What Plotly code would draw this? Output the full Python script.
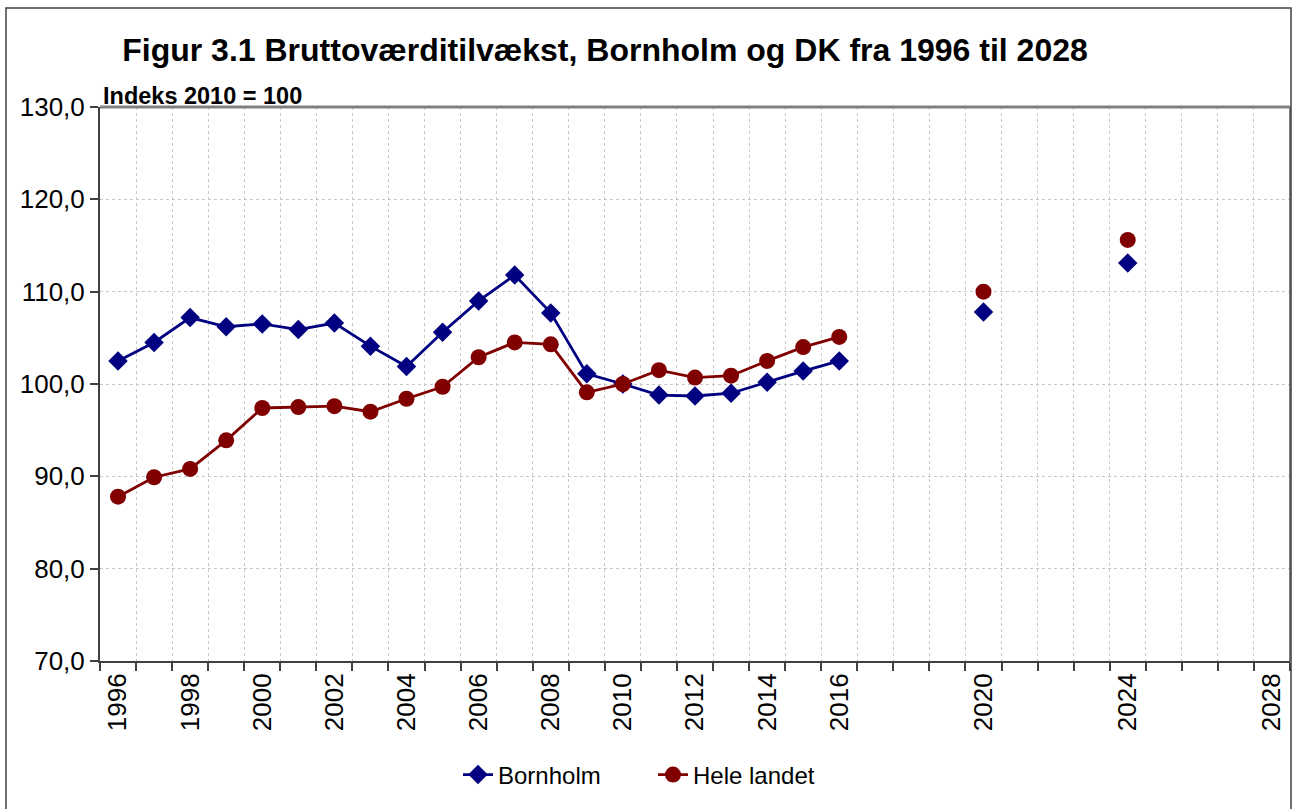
import plotly.graph_objects as go

years = list(range(1996, 2025))
bornholm = [102.5, 104.5, 107.2, 106.2, 106.5, 105.9, 106.6, 104.1, 101.9, 105.6,
            109.0, 111.8, 107.7, 101.1, 100.0, 98.8, 98.7, 99.0, 100.2, 101.4, 102.5,
            None, None, None, 107.8, None, None, None, 113.1]
hele_landet = [87.8, 89.9, 90.8, 93.9, 97.4, 97.5, 97.6, 97.0, 98.4, 99.7,
               102.9, 104.5, 104.3, 99.1, 100.0, 101.5, 100.7, 100.9, 102.5, 104.0, 105.1,
               None, None, None, 110.0, None, None, None, 115.6]
tick_years = [1996, 1998, 2000, 2002, 2004, 2006, 2008, 2010, 2012, 2014, 2016, 2020, 2024, 2028]
y_ticks = [70, 80, 90, 100, 110, 120, 130]

FONT = "Liberation Sans, Arial, sans-serif"

fig = go.Figure()
fig.add_trace(go.Scatter(
    x=years, y=bornholm, name="Bornholm", mode="lines+markers",
    line=dict(color="#000080", width=2.8),
    marker=dict(symbol="diamond", size=15, color="#000080"),
    connectgaps=False,
))
fig.add_trace(go.Scatter(
    x=years, y=hele_landet, name="Hele landet", mode="lines+markers",
    line=dict(color="#800000", width=2.8),
    marker=dict(symbol="circle", size=16, color="#800000"),
    connectgaps=False,
))

fig.update_layout(
    width=1293, height=809,
    margin=dict(l=100, r=3, t=107, b=148),
    paper_bgcolor="white", plot_bgcolor="white",
    separators=",.",
    font=dict(family=FONT, color="black", size=22),
    title=dict(
        text="<b>Figur 3.1 Bruttoværditilvækst, Bornholm og DK fra 1996 til 2028</b>",
        font=dict(family=FONT, size=32, color="black"),
        x=(605 - 100) / 1190, xref="paper", xanchor="center",
        y=1 - 50 / 809, yref="container", yanchor="middle",
    ),
    showlegend=True,
    legend=dict(
        orientation="h", x=(653 - 100) / 1190, xanchor="center",
        y=(661 - 775) / 554, yanchor="middle",
        font=dict(family=FONT, size=24, color="black"),
        bgcolor="rgba(0,0,0,0)",
        entrywidth=150, entrywidthmode="pixels",
    ),
    xaxis=dict(
        range=[1995.5, 2028.5], tickmode="array", tickvals=tick_years,
        ticktext=[str(t) for t in tick_years], tickangle=-90,
        ticks="", showgrid=False, zeroline=False,
        showline=True, linecolor="#404040", linewidth=2,
        tickfont=dict(family=FONT, size=26, color="black"),
        minor=dict(tick0=1995.5, dtick=1, ticks="outside", ticklen=8, tickwidth=1.5,
                   tickcolor="#404040", showgrid=True, gridcolor="#c8c8c8",
                   griddash="dot", gridwidth=1),
    ),
    yaxis=dict(
        range=[70, 130], tickmode="array", tickvals=y_ticks, tickformat=".1f",
        ticks="outside", ticklen=8, tickwidth=1.5, tickcolor="#404040",
        showgrid=True, gridcolor="#c8c8c8", griddash="dot", gridwidth=1,
        zeroline=False, showline=True, linecolor="#404040", linewidth=2,
        tickfont=dict(family=FONT, size=26, color="black"),
    ),
)

fig.add_annotation(
    text="<b>Indeks 2010 = 100</b>", xref="paper", yref="paper",
    x=(101 - 100) / 1190, y=1 + (107 - 96) / 554, xanchor="left", yanchor="middle",
    showarrow=False, font=dict(family=FONT, size=23.5, color="black"),
)

# top border of plot area
fig.add_shape(type="line", xref="paper", yref="paper", x0=0, x1=1, y0=1, y1=1,
              line=dict(color="#808080", width=3))
# right border of plot area
fig.add_shape(type="line", xref="paper", yref="paper", x0=1, x1=1, y0=0, y1=1,
              line=dict(color="#808080", width=2))
# outer chart frame
fig.add_shape(type="rect", xref="paper", yref="paper",
              x0=(6 - 100) / 1190, x1=(1291 - 100) / 1190,
              y0=(661 - 815) / 554, y1=1 + (107 - 8) / 554,
              line=dict(color="#404040", width=1.5), fillcolor="rgba(0,0,0,0)")

fig.write_html("out.html", config={"displayModeBar": False},
               post_script="document.body.style.margin='0';")
